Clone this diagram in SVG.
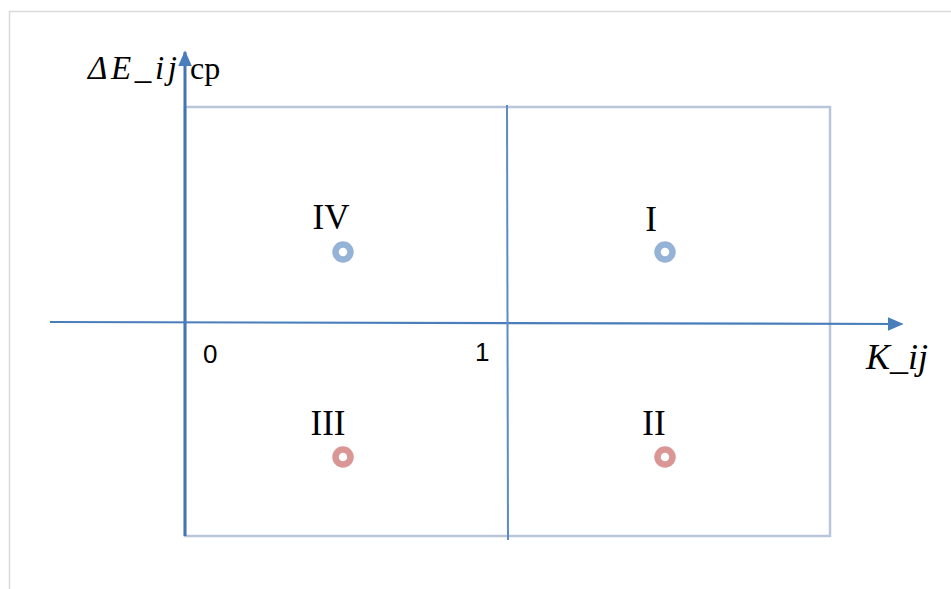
<svg xmlns="http://www.w3.org/2000/svg" width="951" height="589" viewBox="0 0 951 589">
<defs>
<style>
.frame{stroke:#d9d9d9;stroke-width:1.5;fill:none}
.box{stroke:#b9c6da;stroke-width:2.5;fill:none}
.axis{stroke:#4a7ebb;stroke-width:2.2;fill:none}
.serif{font-family:"Liberation Serif","DejaVu Serif",serif;fill:#000}
.it{font-style:italic}
.sans{font-family:"Liberation Sans","DejaVu Sans",sans-serif;font-size:26px;fill:#000}
.blue{fill:none;stroke:#95b3d7;stroke-width:6.5}
.red{fill:none;stroke:#d99695;stroke-width:6.5}
</style>
<marker id="arrH" viewBox="0 0 10 10" refX="9" refY="5" markerWidth="16" markerHeight="14" markerUnits="userSpaceOnUse" orient="auto" preserveAspectRatio="none">
<path d="M0,0 L10,5 L0,10 z" fill="#4a7ebb"/>
</marker>
</defs>
<rect width="951" height="589" fill="#fff"/>
<g id="frame">
<path class="frame" d="M9.5,589 V11.5 H951"/>
</g>
<g id="box">
<rect class="box" x="185" y="107" width="645" height="429"/>
</g>
<g id="connectors">
<line class="axis" x1="185" y1="536" x2="185" y2="52" marker-end="url(#arrH)" style="stroke-width:3;stroke:#4374b5"/>
<line class="axis" x1="50" y1="322" x2="902" y2="324" marker-end="url(#arrH)"/>
<line class="axis" x1="507" y1="105" x2="508" y2="540" style="stroke:#5b8cc8;stroke-width:2"/>
</g>
<g id="labels">
<text class="serif it" x="88" y="79" font-size="33" textLength="89" lengthAdjust="spacing">ΔE_ij</text>
<text class="serif" x="190" y="79" font-size="32">cp</text>
<text class="serif it" x="866" y="369" font-size="36">K_ij</text>
<text class="sans" x="203" y="363">0</text>
<text class="sans" x="475" y="361">1</text>
</g>
<g id="q1">
<text class="serif" x="651" y="231" font-size="35" text-anchor="middle">I</text>
<circle class="blue" cx="665" cy="252" r="7.5"/>
</g>
<g id="q2">
<text class="serif" x="654" y="435" font-size="35" text-anchor="middle">II</text>
<circle class="red" cx="665" cy="457" r="7.5"/>
</g>
<g id="q3">
<text class="serif" x="328" y="435" font-size="35" text-anchor="middle">III</text>
<circle class="red" cx="343" cy="457" r="7.5"/>
</g>
<g id="q4">
<text class="serif" x="331" y="229" font-size="35" text-anchor="middle">IV</text>
<circle class="blue" cx="343" cy="252" r="7.5"/>
</g>
</svg>
